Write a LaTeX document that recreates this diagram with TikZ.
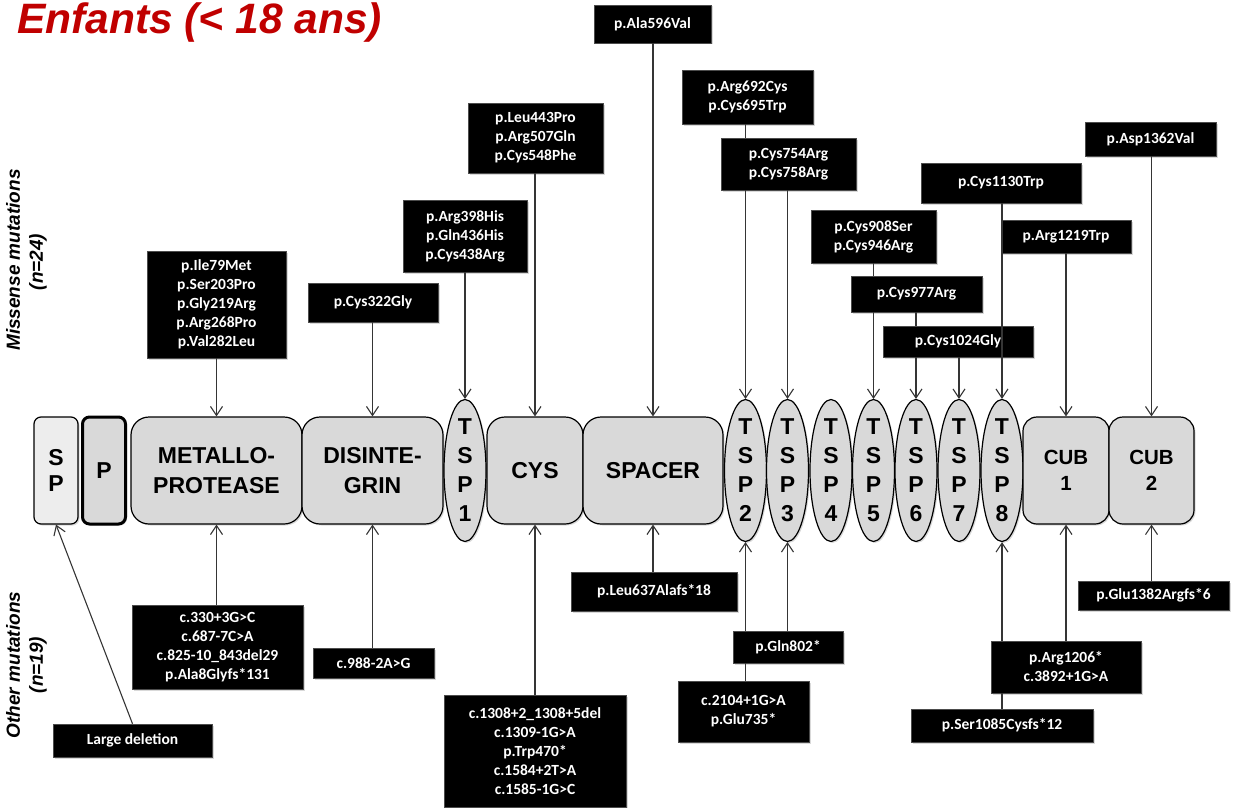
\documentclass[tikz,border=0pt]{standalone}
\usepackage{fontspec}
\setmainfont{Liberation Sans}
\newfontfamily\calib{Carlito}
\usetikzlibrary{arrows.meta,shapes.geometric,shadows}
\definecolor{domfill}{HTML}{D9D9D9}
\definecolor{splight}{HTML}{EDEDED}
\definecolor{ttlred}{HTML}{C00000}
\definecolor{conncol}{HTML}{353535}
\tikzset{
  dshadow/.style={drop shadow={shadow xshift=1.5pt,shadow yshift=-1.5pt,opacity=0.3}},
  dombox/.style={draw=black, line width=1.2pt, fill=domfill, rounded corners=18pt,
    minimum height=107pt, inner sep=0pt, align=center,
    font=\bfseries\fontsize{23}{29.5}\selectfont, dshadow},
  tspell/.style={draw=black, line width=1.2pt, fill=domfill, ellipse,
    minimum width=42pt, minimum height=142pt, inner sep=0pt, dshadow},
  tsptext/.style={align=center, inner sep=0pt, font=\bfseries\fontsize{23}{29}\selectfont},
  mut/.style={fill=black, draw=black!70, line width=0.5pt, text=white, align=center,
    inner sep=0pt, font=\calib\bfseries\fontsize{15.5}{19}\selectfont, dshadow},
  conn/.style={draw=conncol, line width=1.1pt},
  arr/.style={conn, -{Straight Barb[length=9pt,width=12pt]}},
  sidelab/.style={rotate=90, inner sep=0pt, font=\bfseries\itshape\fontsize{19}{22}\selectfont}
}
\begin{document}
\begin{tikzpicture}[x=1pt,y=-1pt]
\useasboundingbox (0,0) rectangle (1242,808);

% title
\node[anchor=base west, inner sep=0pt, text=ttlred, font=\bfseries\itshape\fontsize{42.5}{48}\selectfont] (title) at (17,34) {Enfants (< 18 ans)};

% side labels
\node[sidelab] (lm1) at (13,260) {Missense mutations};
\node[sidelab] (lm2) at (38,262) {(n=24)};
\node[sidelab] (lo1) at (13,665) {Other mutations};
\node[sidelab] (lo2) at (38,665) {(n=19)};

% domains
\node[dombox, fill=splight, rounded corners=7pt, minimum width=44pt] (sp) at (56,470.5) {S\\[-3.5pt]P};
\node[dombox, line width=3pt, rounded corners=7pt, minimum width=43pt] (pro) at (104,470.5) {P};
\node[dombox, minimum width=171pt] (mp) at (216.5,470.5) {METALLO-\\PROTEASE};
\node[dombox, minimum width=141pt] (di) at (372.5,470.5) {DISINTE-\\GRIN};
\node[tspell] (t1) at (465,470.5) {};
\node[dombox, minimum width=96pt] (cys) at (535,470.5) {CYS};
\node[dombox, minimum width=140pt] (spc) at (653,470.5) {SPACER};
\node[tspell] (t2) at (745.5,470.5) {};
\node[tspell] (t3) at (787.5,470.5) {};
\node[tspell] (t4) at (831,470.5) {};
\node[tspell] (t5) at (873.5,470.5) {};
\node[tspell] (t6) at (916,470.5) {};
\node[tspell] (t7) at (959,470.5) {};
\node[tspell] (t8) at (1002,470.5) {};
\node[dombox, rounded corners=14pt, minimum width=86pt, font=\bfseries\fontsize{20.5}{26}\selectfont] (cub1) at (1066,470.5) {CUB\\1};
\node[dombox, rounded corners=14pt, minimum width=85pt, font=\bfseries\fontsize{20.5}{26}\selectfont] (cub2) at (1151.5,470.5) {CUB\\2};
\node[tsptext] (l1) at (t1) {T\\S\\P\\1};
\node[tsptext] (l2) at (t2) {T\\S\\P\\2};
\node[tsptext] (l3) at (t3) {T\\S\\P\\3};
\node[tsptext] (l4) at (t4) {T\\S\\P\\4};
\node[tsptext] (l5) at (t5) {T\\S\\P\\5};
\node[tsptext] (l6) at (t6) {T\\S\\P\\6};
\node[tsptext] (l7) at (t7) {T\\S\\P\\7};
\node[tsptext] (l8) at (t8) {T\\S\\P\\8};

% missense mutation boxes
\node[mut, minimum width=117pt, minimum height=38pt] (b1) at (652.5,24) {p.Ala596Val};
\node[mut, minimum width=131pt, minimum height=54pt] (b2) at (747.5,97) {p.Arg692Cys\\p.Cys695Trp};
\node[mut, minimum width=135pt, minimum height=52pt] (b3) at (788.5,164) {p.Cys754Arg\\p.Cys758Arg};
\node[mut, minimum width=135pt, minimum height=70pt] (b4) at (535.5,138) {p.Leu443Pro\\p.Arg507Gln\\p.Cys548Phe};
\node[mut, minimum width=124pt, minimum height=72pt] (b5) at (465,236) {p.Arg398His\\p.Gln436His\\p.Cys438Arg};
\node[mut, minimum width=139pt, minimum height=107pt] (b6) at (216.5,304.5) {p.Ile79Met\\p.Ser203Pro\\p.Gly219Arg\\p.Arg268Pro\\p.Val282Leu};
\node[mut, minimum width=130pt, minimum height=39pt] (b7) at (373,302.5) {p.Cys322Gly};
\node[mut, minimum width=125pt, minimum height=53pt] (b8) at (873.5,236.5) {p.Cys908Ser\\p.Cys946Arg};
\node[mut, minimum width=131pt, minimum height=36pt] (b9) at (916.5,294) {p.Cys977Arg};
\node[mut, minimum width=150pt, minimum height=31pt] (b10) at (958,341.5) {p.Cys1024Gly};
\node[mut, minimum width=160pt, minimum height=40pt] (b11) at (1001,183) {p.Cys1130Trp};
\node[mut, minimum width=130pt, minimum height=33pt] (b12) at (1066,236.5) {p.Arg1219Trp};
\node[mut, minimum width=131pt, minimum height=34pt] (b13) at (1150.5,139) {p.Asp1362Val};

% other mutation boxes
\node[mut, minimum width=159pt, minimum height=33pt] (b14) at (132.5,740.5) {Large deletion};
\node[mut, minimum width=171pt, minimum height=84pt] (b15) at (217.5,647) {c.330+3G>C\\c.687-7C>A\\c.825-10\_843del29\\p.Ala8Glyfs*131};
\node[mut, minimum width=121pt, minimum height=30pt] (b16) at (373.5,663) {c.988-2A>G};
\node[mut, minimum width=182pt, minimum height=112pt] (b17) at (535,751) {c.1308+2\_1308+5del\\c.1309-1G>A\\p.Trp470*\\c.1584+2T>A\\c.1585-1G>C};
\node[mut, minimum width=166pt, minimum height=39pt] (b18) at (654,591.5) {p.Leu637Alafs*18};
\node[mut, minimum width=110pt, minimum height=32pt] (b19) at (788,647) {p.Gln802*};
\node[mut, minimum width=131pt, minimum height=61pt] (b20) at (743.5,711.5) {c.2104+1G>A\\p.Glu735*};
\node[mut, minimum width=151pt, minimum height=29pt] (b21) at (1153.5,595.5) {p.Glu1382Argfs*6};
\node[mut, minimum width=150pt, minimum height=52pt] (b22) at (1066,667) {p.Arg1206*\\c.3892+1G>A};
\node[mut, minimum width=182pt, minimum height=33pt] (b23) at (1002,725.5) {p.Ser1085Cysfs*12};

% connectors (top)
\draw[arr] (b1.south -| spc.north) -- (spc.north);
\draw[conn] (b2.south -| t2) -- (b3.north -| t2);
\draw[arr] (b3.south -| t2) -- (t2.north);
\draw[arr] (b3.south -| t3) -- (t3.north);
\draw[arr] (b4.south -| cys.north) -- (cys.north);
\draw[arr] (b5.south -| t1) -- (t1.north);
\draw[arr] (b6.south -| mp.north) -- (mp.north);
\draw[arr] (b7.south -| di.north) -- (di.north);
\draw[conn] (b8.south -| t5) -- (b9.north -| t5);
\draw[arr] (b9.south -| t5) -- (t5.north);
\draw[conn] (b9.south -| t6) -- (b10.north -| t6);
\draw[arr] (b10.south -| t6) -- (t6.north);
\draw[arr] (b10.south -| t7) -- (t7.north);
\draw[arr] (b11.south -| t8) -- (t8.north);
\draw[arr] (b12.south -| cub1.north) -- (cub1.north);
\draw[arr] (b13.south -| cub2.north) -- (cub2.north);

% connectors (bottom)
\draw[arr] (b14.north) -- (sp.south);
\draw[arr] (b15.north -| mp.south) -- (mp.south);
\draw[arr] (b16.north -| di.south) -- (di.south);
\draw[arr] (b17.north -| cys.south) -- (cys.south);
\draw[arr] (b18.north -| spc.south) -- (spc.south);
\draw[arr] (b19.north -| t2) -- (t2.south);
\draw[arr] (b19.north -| t3) -- (t3.south);
\draw[conn] (b20.north -| t2) -- (b19.south -| t2);
\draw[arr] (b21.north -| cub2.south) -- (cub2.south);
\draw[arr] (b22.north -| t8) -- (t8.south);
\draw[arr] (b22.north -| cub1.south) -- (cub1.south);
\draw[conn] (b23.north -| t8) -- (b22.south -| t8);
\end{tikzpicture}
\end{document}
